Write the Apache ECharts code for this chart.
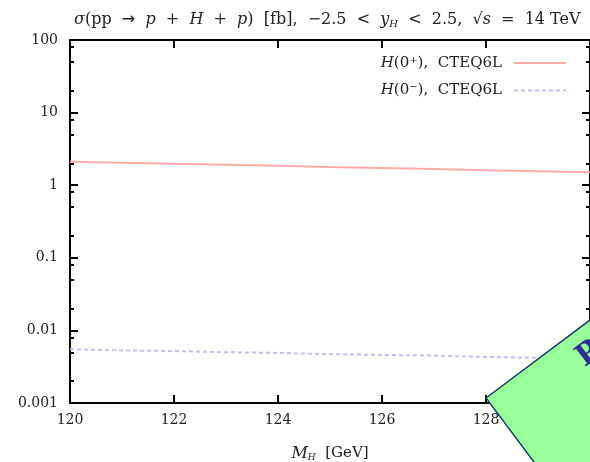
<!DOCTYPE html>
<html><head><meta charset="utf-8">
<script src="https://cdn.jsdelivr.net/npm/echarts@6/dist/echarts.min.js"></script>
<style>html,body{margin:0;padding:0;background:#fff}#c{width:590px;height:462px}</style>
</head><body><div id="c"></div>
<script>
const masses = [120,121,122,123,124,125,126,127,128,129,130];
const sigmaEven = [2.10,2.04,1.97,1.91,1.85,1.78,1.73,1.67,1.61,1.56,1.51];
const sigmaOdd = [0.0055,0.0053,0.0052,0.0050,0.0049,0.0047,0.0046,0.0045,0.0043,0.0042,0.0041];
const yTickLabels = ['0.001','0.01','0.1','1','10','100'];
const yMinorTicks = [0.002,0.005,0.008,0.02,0.05,0.08,0.2,0.5,0.8,2,5,8,20,50,80];
const xTicks = [120,122,124,126,128,130];

const FONT = 'DejaVu Serif';
const black = '#000';
const chart = echarts.init(document.getElementById('c'), null, {renderer:'canvas'});

function yAx(pos, minor, labels){
  return {
    type:'log', logBase:10, min:0.001, max:100, position:pos,
    axisLine:{show:!minor, onZero:false, lineStyle:{color:black,width:2}},
    axisTick:minor ? {show:true, inside:true, length:4, lineStyle:{color:black,width:2}, customValues:yMinorTicks}
                   : {show:true, inside:true, length:8, lineStyle:{color:black,width:2}},
    axisLabel:{show:labels, margin:12, fontFamily:FONT, fontSize:14, color:'#222',
      formatter:v=>{ const s=yTickLabels.find(t=>Math.abs(parseFloat(t)-v)/v<1e-6); return s||''; }},
    splitLine:{show:false}, minorTick:{show:false}
  };
}
function xAx(pos, labels){
  return {
    type:'value', min:120, max:130, interval:2, position:pos,
    axisLine:{show:true, onZero:false, lineStyle:{color:black,width:2}},
    axisTick:{show:true, inside:true, length:8, lineStyle:{color:black,width:2}},
    axisLabel:{show:labels, margin:10, fontFamily:FONT, fontSize:14, color:'#222',
      formatter:v=> xTicks.includes(v) ? String(v) : ''},
    splitLine:{show:false},
    name: labels ? '{i|M}{sub|H}  [GeV]' : '',
    nameLocation:'middle', nameGap:42,
    nameTextStyle:{fontFamily:FONT, fontSize:15, color:'#222',
      rich:{i:{fontFamily:FONT,fontStyle:'italic',fontSize:16,color:'#222'},
            sub:{fontFamily:FONT,fontStyle:'italic',fontSize:9,color:'#222',verticalAlign:'bottom',padding:[8,0,0,0]}}}
  };
}

const legendRich = {
  i:{fontFamily:FONT,fontStyle:'italic',fontSize:15,color:'#222'},
  n:{fontFamily:FONT,fontSize:15,color:'#222'},
  sup:{fontFamily:FONT,fontSize:10,color:'#222',verticalAlign:'top',padding:[0,0,6,0]}
};
const tBase = {fontFamily:FONT,fontSize:16,fontWeight:'normal',color:'#222'};
const tIt = Object.assign({}, tBase, {fontStyle:'italic'});
const tArr = Object.assign({}, tBase, {fontFamily:'DejaVu Sans'});

chart.setOption({
  animation:false,
  backgroundColor:'#fff',
  grid:{left:70, right:0, top:40, bottom:59, containLabel:false, outerBoundsMode:'none'},
  title:{
    text:'{s|σ}{n|(pp  }{a|→}{n|  }{i|p}{n|  +  }{i|H}{n|  +  }{i|p}{n|)  [fb],  −2.5  <  }{i|y}{sub|H}{n|  <  2.5,  √}{i|s}{n|  =  14 TeV}',
    left:69, top:6,
    textStyle:{fontWeight:'normal', rich:{
      s:tIt, n:tBase, i:tIt, a:tArr,
      sub:{fontFamily:FONT,fontStyle:'italic',fontWeight:'normal',fontSize:10,color:'#222',verticalAlign:'bottom',padding:[8,0,0,0]}
    }}
  },
  legend:{
    orient:'vertical', right:18, top:50, align:'right',
    itemWidth:52, itemHeight:14, itemGap:12,
    itemStyle:{opacity:0},
    textStyle:{padding:[0,7,0,0], rich:legendRich},
    formatter:name=> name==='even' ? '{i|H}{n|(0}{sup|+}{n|),  CTEQ6L}' : '{i|H}{n|(0}{sup|−}{n|),  CTEQ6L}',
    data:['even','odd']
  },
  xAxis:[xAx('bottom',true), xAx('top',false)],
  yAxis:[yAx('left',false,true), yAx('left',true,false), yAx('right',false,false), yAx('right',true,false)],
  series:[
    {name:'even', type:'line', xAxisIndex:0, yAxisIndex:0, symbol:'none', smooth:false,
     lineStyle:{color:'#ffaaaa', width:2}, itemStyle:{color:'#ffaaaa'},
     data:masses.map((m,i)=>[m,sigmaEven[i]])},
    {name:'odd', type:'line', xAxisIndex:0, yAxisIndex:0, symbol:'none', smooth:false,
     lineStyle:{color:'#c0c0f6', width:2, type:[4,3]}, itemStyle:{color:'#c0c0f6'},
     data:masses.map((m,i)=>[m,sigmaOdd[i]])}
  ],
  graphic:[
    {type:'polygon', z:100,
     shape:{points:[[486,398],[646,278],[766,438],[606,558]]},
     style:{fill:'#99ff99', stroke:'#123c6e', lineWidth:1.5}},
    {type:'text', z:101, x:589, y:373, rotation:0.646,
     style:{text:'Preliminary', fill:'#2e2e96', font:'bold 30px "DejaVu Serif"', textVerticalAlign:'bottom'}}
  ]
});
</script></body></html>
